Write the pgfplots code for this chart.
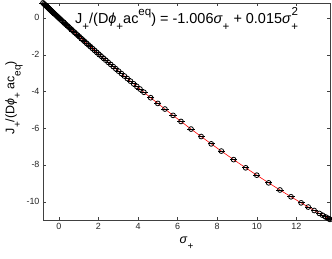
\documentclass[border=0pt]{standalone}
\usepackage{pgfplots}
\pgfplotsset{compat=1.18}
\usepackage{fontspec}
\setmainfont{Liberation Sans}
\newcommand{\sub}[1]{\raisebox{-0.5em}{\scalebox{0.8}{#1}}}
\newcommand{\sups}[1]{\raisebox{0.55em}{\scalebox{0.8}{#1}}}
\pgfplotstableread{
x y
-0.8 0.8144
-0.75 0.7629
-0.7 0.7116
-0.65 0.6602
-0.6 0.609
-0.55 0.5578
-0.5 0.5068
-0.45 0.4557
-0.4 0.4048
-0.35 0.3539
-0.3 0.3032
-0.25 0.2524
-0.2 0.2018
-0.14 0.1411
-0.08 0.0806
-0.02 0.0201
0.04 -0.0402
0.1 -0.1005
0.16 -0.1606
0.22 -0.2206
0.29 -0.2905
0.36 -0.3602
0.43 -0.4298
0.5 -0.4993
0.57 -0.5685
0.64 -0.6377
0.72 -0.7165
0.8 -0.7952
0.88 -0.8737
0.96 -0.9519
1.04 -1.03
1.13 -1.1176
1.22 -1.205
1.31 -1.2921
1.4 -1.379
1.5 -1.4753
1.6 -1.5712
1.7 -1.6669
1.8 -1.7622
1.91 -1.8667
2.02 -1.9709
2.13 -2.0747
2.25 -2.1876
2.37 -2.3
2.49 -2.4119
2.62 -2.5328
2.75 -2.6531
2.88 -2.7729
3.02 -2.9013
3.16 -3.0292
3.31 -3.1655
3.46 -3.3012
3.62 -3.4452
3.78 -3.5884
3.94 -3.7308
4.1 -3.8725
4.3 -4.0485
4.64 -4.3449
5.0 -4.655
5.36 -4.9612
5.77 -5.3052
6.17 -5.636
6.68 -6.0507
7.19 -6.4577
7.7 -6.8569
8.21 -7.2482
8.83 -7.7135
9.44 -8.1599
10.0 -8.56
10.6 -8.9782
11.17 -9.3655
11.73 -9.7365
12.24 -10.0662
12.6 -10.2942
12.9 -10.4813
13.16 -10.6412
13.32 -10.7386
13.47 -10.8292
13.58 -10.8952
13.65 -10.9371
13.7 -10.9669
}\pts
\pgfplotstableread{
x y
-0.8 0.8144
0 0
1 -0.991
2 -1.952
3 -2.883
4 -3.784
5 -4.655
6 -5.496
7 -6.307
8 -7.088
9 -7.839
10 -8.56
11 -9.251
12 -9.912
13 -10.543
13.7 -10.967
}\fit
\begin{document}
\begin{tikzpicture}
\begin{axis}[
  name=ax,
  scale only axis,
  width=287bp, height=217bp,
  xmin=-0.8, xmax=13.7, ymin=-11, ymax=0.81,
  xtick={0,2,...,12}, ytick={-10,-8,...,0},
  tick align=inside,
  major tick length=3bp,
  axis line style={black!75},
  tick style={black!75},
  tick label style={font=\fontsize{9}{10}\selectfont, text=black!85},
  /pgf/number format/assume math mode=true,
  xlabel={\textit{σ}\sub{+}},
  ylabel={J\sub{+}/(D\textit{ϕ}\sub{+} ac\sub{eq})},
  label style={font=\fontsize{12.5}{14}\selectfont},
  xlabel style={yshift=0bp},
  ylabel style={yshift=-3bp, xshift=14bp},
  clip=false,
]
\addplot[only marks, mark=o, mark size=2.4bp, black, mark options={line width=0.8bp}] table {\pts};
\addplot[only marks, mark=-, mark size=3.6bp, black, mark options={line width=0.8bp}] table {\pts};
\addplot[red, line width=0.6bp, smooth] table {\fit};
\node[anchor=west, font=\fontsize{14.5}{16}\selectfont] at (axis cs:0.65,-0.05) {J\sub{+}/(D\textit{ϕ}\sub{+}ac\sups{eq}) = -1.006\textit{σ}\sub{+} + 0.015\textit{σ}\sub{+}\llap{\sups{2}}\hphantom{\scalebox{0.2}{2}}};
\end{axis}
\pgfresetboundingbox
\path ([shift={(-43bp,-39bp)}]ax.south west) rectangle ([shift={(2bp,3bp)}]ax.north east);
\end{tikzpicture}
\end{document}
